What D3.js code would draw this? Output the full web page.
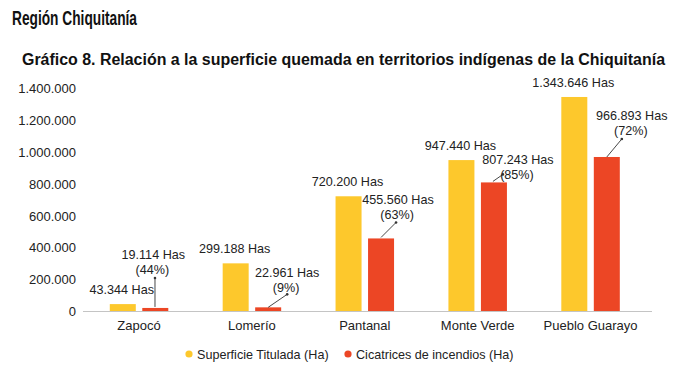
<!DOCTYPE html>
<html>
<head>
<meta charset="utf-8">
<script src="https://cdn.jsdelivr.net/npm/d3@7"></script>
<style>
  html, body { margin: 0; padding: 0; background: #fff; }
  svg { display: block; }
</style>
</head>
<body>
<svg id="chart" width="678" height="383"></svg>
<script>
// ---- data ----
const categories = ["Zapocó", "Lomerío", "Pantanal", "Monte Verde", "Pueblo Guarayo"];
const superficieTitulada = [43344, 299188, 720200, 947440, 1343646];
const cicatricesIncendios = [19114, 22961, 455560, 807243, 966893];
const titledLabels = ["43.344 Has", "299.188 Has", "720.200 Has", "947.440 Has", "1.343.646 Has"];
const burnLabels = ["19.114 Has", "22.961 Has", "455.560 Has", "807.243 Has", "966.893 Has"];
const burnPercents = ["(44%)", "(9%)", "(63%)", "(85%)", "(72%)"];
const yTicks = [0, 200000, 400000, 600000, 800000, 1000000, 1200000, 1400000];
const seriesNames = ["Superficie Titulada (Ha)", "Cicatrices de incendios (Ha)"];

// ---- style / layout ----
const colors = ["#FDC82C", "#EC4625"];
const font = "'Liberation Sans', Arial, sans-serif";
const svg = d3.select("#chart");

const x0 = d3.scaleBand().domain(categories).range([82.6, 647]).paddingInner(0).paddingOuter(0);
const y = d3.scaleLinear().domain([0, 1400000]).range([311, 88]);
const barW = 26, gap = 6.5;

// annotation offsets for burnt-area labels (relative to red bar top-left)
const leader = [
  {sx: 12.7, sy: -1, ex: 12.7, ey: -30, tx: 11, ty: -49},
  {sx: 13, sy: 0,  ex: 32, ey: -13, tx: 32, ty: -30},
  {sx: 13, sy: -1, ex: 28, ey: -16, tx: 30, ty: -34},
  {sx: 12, sy: -1, ex: 22, ey: -8,  tx: 37, ty: -18},
  {sx: 13, sy: 0,  ex: 28, ey: -18, tx: 38, ty: -37}
];

// titles
svg.append("text").attr("x", 12).attr("y", 25)
  .attr("font-family", font).attr("font-weight", "bold").attr("font-size", 19.5)
  .attr("textLength", 125).attr("lengthAdjust", "spacingAndGlyphs")
  .attr("fill", "#111").text("Región Chiquitanía");

svg.append("text").attr("x", 22).attr("y", 65)
  .attr("font-family", font).attr("font-weight", "bold").attr("font-size", 16)
  .attr("textLength", 643).attr("lengthAdjust", "spacingAndGlyphs")
  .attr("fill", "#111").text("Gráfico 8. Relación a la superficie quemada en territorios indígenas de la Chiquitanía");

// y axis labels (no line)
const yAxis = d3.axisLeft(y).tickValues(yTicks).tickSize(0).tickPadding(0)
  .tickFormat(d => d3.format(",")(d).replace(/,/g, "."));
const gy = svg.append("g").attr("transform", "translate(76,0)").call(yAxis);
gy.select(".domain").remove();
gy.selectAll("text").attr("font-family", font).attr("font-size", 13).attr("fill", "#222").attr("dy", "0.36em");

// x axis
const xAxis = d3.axisBottom(x0).tickSize(0).tickPadding(10);
const gx = svg.append("g").attr("transform", `translate(0,${y(0)})`).call(xAxis);
gx.select(".domain").remove();
gx.selectAll("text").attr("font-family", font).attr("font-size", 13).attr("fill", "#222");
svg.append("line").attr("x1", 83).attr("x2", 652).attr("y1", y(0) + 0.5).attr("y2", y(0) + 0.5)
  .attr("stroke", "#c4c4c4").attr("stroke-width", 1.2);

// bars
const groups = svg.append("g").selectAll("g").data(categories).join("g");
groups.append("rect")
  .attr("x", d => x0(d) + x0.bandwidth() / 2 - gap / 2 - barW)
  .attr("width", barW)
  .attr("y", (d, i) => y(superficieTitulada[i]))
  .attr("height", (d, i) => y(0) - y(superficieTitulada[i]))
  .attr("fill", colors[0]);
groups.append("rect")
  .attr("x", d => x0(d) + x0.bandwidth() / 2 + gap / 2)
  .attr("width", barW)
  .attr("y", (d, i) => y(cicatricesIncendios[i]))
  .attr("height", (d, i) => y(0) - y(cicatricesIncendios[i]))
  .attr("fill", colors[1]);

const fsv = 12.6;
// yellow labels
groups.append("text")
  .attr("x", d => x0(d) + x0.bandwidth() / 2 - gap / 2 - barW / 2 - 1)
  .attr("y", (d, i) => y(superficieTitulada[i]) - 10)
  .attr("text-anchor", "middle")
  .attr("font-family", font).attr("font-size", fsv).attr("fill", "#222")
  .text((d, i) => titledLabels[i]);

// red labels with leader lines
groups.each(function (d, i) {
  const g = d3.select(this);
  const bx = x0(d) + x0.bandwidth() / 2 + gap / 2;
  const by = y(cicatricesIncendios[i]);
  const L = leader[i];
  g.append("line")
    .attr("x1", bx + L.sx).attr("y1", by + L.sy)
    .attr("x2", bx + L.ex).attr("y2", by + L.ey)
    .attr("stroke", "#333").attr("stroke-width", 0.9);
  g.append("circle").attr("cx", bx + L.ex).attr("cy", by + L.ey).attr("r", 1.3).attr("fill", "#333");
  const t = g.append("text")
    .attr("x", bx + L.tx).attr("y", by + L.ty)
    .attr("text-anchor", "middle")
    .attr("font-family", font).attr("font-size", fsv).attr("fill", "#222");
  t.append("tspan").attr("x", bx + L.tx).attr("dy", 0).text(burnLabels[i]);
  t.append("tspan").attr("x", bx + L.tx - 1).attr("dy", 15).text(burnPercents[i]);
});

// legend
const legend = [{x: 189, t: seriesNames[0]}, {x: 348, t: seriesNames[1]}];
legend.forEach((l, i) => {
  svg.append("circle").attr("cx", l.x).attr("cy", 354).attr("r", 3.6).attr("fill", colors[i]);
  svg.append("text").attr("x", l.x + 8).attr("y", 359)
    .attr("font-family", font).attr("font-size", 12.6).attr("fill", "#222").text(l.t);
});
</script>
</body>
</html>
